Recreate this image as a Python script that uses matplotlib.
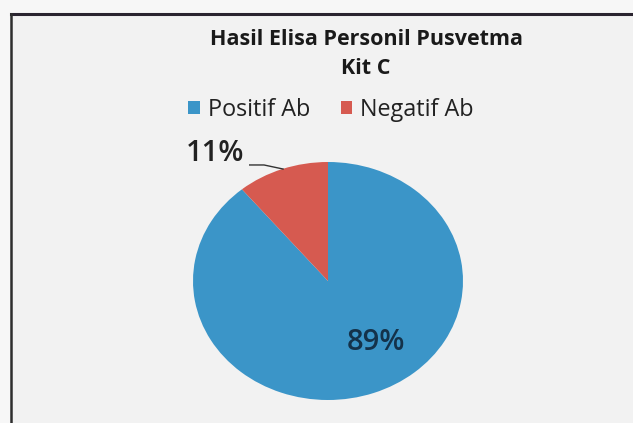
import matplotlib.pyplot as plt
from matplotlib.lines import Line2D

# data
labels = ['Positif Ab', 'Negatif Ab']
values = [89, 11]
colors = ['#3b95c8', '#d65a50']
title = 'Hasil Elisa Personil Pusvetma\nKit C'

plt.rcParams['font.family'] = ['Open Sans', 'DejaVu Sans']

W, H = 633, 423
fig = plt.figure(figsize=(W / 100, H / 100), dpi=100)
fig.patch.set_facecolor('#f2f2f2')

# whiter margin outside the chart area + dark border (right/bottom cut off by the scan)
fig.patches.append(plt.Rectangle((0, 1 - 13 / H), 1, 13 / H, transform=fig.transFigure,
                                 facecolor='#f7f7f7', edgecolor='none', zorder=-10))
fig.patches.append(plt.Rectangle((0, 0), 10 / W, 1, transform=fig.transFigure,
                                 facecolor='#f7f7f7', edgecolor='none', zorder=-10))
fig.lines.append(Line2D([11 / W, 1], [1 - 14 / H, 1 - 14 / H], transform=fig.transFigure,
                        color='#2a2430', lw=2.2))
fig.lines.append(Line2D([11 / W, 11 / W], [0, 1 - 14 / H], transform=fig.transFigure,
                        color='#2e2e2e', lw=1.8))

# pie (the scan is a little squashed, so let it be an ellipse)
ax = fig.add_axes([193 / W, (H - 400) / H, 270 / W, 238 / H])
wedges, _ = ax.pie(values, colors=colors, startangle=90, counterclock=False,
                   radius=1, frame=False)
ax.set_aspect('auto')
ax.set_xlim(-1, 1)
ax.set_ylim(-1, 1)
ax.axis('off')

pct = [f'{v / sum(values) * 100:.0f}%' for v in values]
ax.text(0.356, -0.513, pct[0], ha='center', va='center', fontsize=21,
        fontweight='semibold', color='#14324a')
ax.text(-0.84, 1.07, pct[1], ha='center', va='center', fontsize=21,
        fontweight='semibold', color='#222222', clip_on=False)
ax.plot([-0.58, -0.474, -0.333], [0.975, 0.975, 0.941], color='#333333',
        lw=1, clip_on=False)

fig.text(366 / W, 1 - 54 / H, title, ha='center', va='center', fontsize=15.5,
         fontweight='bold', color='#1a1a1a', linespacing=1.45)

fig.legend(wedges, labels, loc='center', bbox_to_anchor=(331 / W, 1 - 110 / H),
           ncol=2, frameon=False, handlelength=0.5, handleheight=0.5,
           handletextpad=0.35, columnspacing=1.3, labelcolor='#222222',
           prop={'size': 16.8})

plt.savefig('out.png', dpi=100, facecolor=fig.get_facecolor())
